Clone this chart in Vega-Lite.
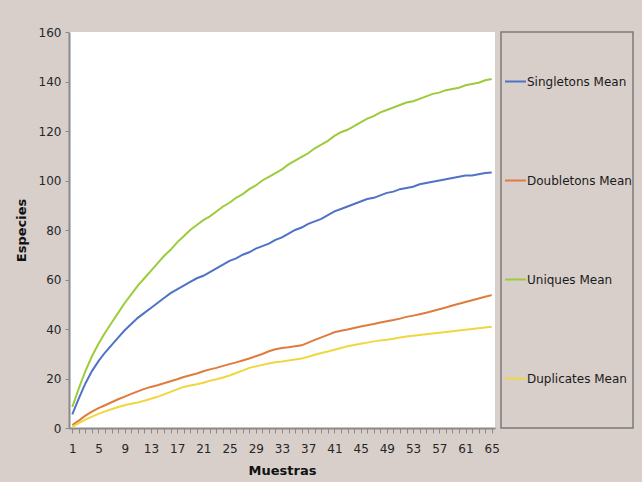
{
  "$schema": "https://vega.github.io/schema/vega-lite/v6.json",
  "background": "#d8cfcb",
  "padding": {"left": 15, "top": 26, "right": 8, "bottom": 5},
  "config": {"font": "DejaVu Sans"},
  "bounds": "flush",
  "spacing": 6,
  "resolve": {"scale": {"x": "independent", "y": "independent", "color": "shared"}},
  "datasets": {
    "curves": [
      {"m":1,"Singletons Mean":5.5,"Doubletons Mean":1.2,"Uniques Mean":8.5,"Duplicates Mean":0.5},
      {"m":2,"Singletons Mean":12,"Doubletons Mean":3,"Uniques Mean":16,"Duplicates Mean":2},
      {"m":3,"Singletons Mean":18,"Doubletons Mean":5,"Uniques Mean":23,"Duplicates Mean":3.4},
      {"m":4,"Singletons Mean":23,"Doubletons Mean":6.6,"Uniques Mean":29,"Duplicates Mean":4.6},
      {"m":5,"Singletons Mean":27,"Doubletons Mean":8,"Uniques Mean":34,"Duplicates Mean":5.7},
      {"m":6,"Singletons Mean":30.5,"Doubletons Mean":9.2,"Uniques Mean":38.5,"Duplicates Mean":6.7},
      {"m":7,"Singletons Mean":33.5,"Doubletons Mean":10.4,"Uniques Mean":42.5,"Duplicates Mean":7.6},
      {"m":8,"Singletons Mean":36.5,"Doubletons Mean":11.6,"Uniques Mean":46.5,"Duplicates Mean":8.5},
      {"m":9,"Singletons Mean":39.5,"Doubletons Mean":12.7,"Uniques Mean":50.5,"Duplicates Mean":9.2},
      {"m":10,"Singletons Mean":42,"Doubletons Mean":13.8,"Uniques Mean":54,"Duplicates Mean":9.8},
      {"m":11,"Singletons Mean":44.5,"Doubletons Mean":14.8,"Uniques Mean":57.5,"Duplicates Mean":10.3},
      {"m":12,"Singletons Mean":46.5,"Doubletons Mean":15.8,"Uniques Mean":60.5,"Duplicates Mean":11},
      {"m":13,"Singletons Mean":48.5,"Doubletons Mean":16.6,"Uniques Mean":63.5,"Duplicates Mean":11.8},
      {"m":14,"Singletons Mean":50.5,"Doubletons Mean":17.3,"Uniques Mean":66.5,"Duplicates Mean":12.6},
      {"m":15,"Singletons Mean":52.5,"Doubletons Mean":18.1,"Uniques Mean":69.5,"Duplicates Mean":13.6},
      {"m":16,"Singletons Mean":54.5,"Doubletons Mean":18.9,"Uniques Mean":72,"Duplicates Mean":14.6},
      {"m":17,"Singletons Mean":56,"Doubletons Mean":19.7,"Uniques Mean":75,"Duplicates Mean":15.6},
      {"m":18,"Singletons Mean":57.5,"Doubletons Mean":20.6,"Uniques Mean":77.5,"Duplicates Mean":16.6},
      {"m":19,"Singletons Mean":59,"Doubletons Mean":21.3,"Uniques Mean":80,"Duplicates Mean":17.2},
      {"m":20,"Singletons Mean":60.5,"Doubletons Mean":22,"Uniques Mean":82,"Duplicates Mean":17.7},
      {"m":21,"Singletons Mean":61.5,"Doubletons Mean":22.9,"Uniques Mean":84,"Duplicates Mean":18.3},
      {"m":22,"Singletons Mean":63,"Doubletons Mean":23.7,"Uniques Mean":85.5,"Duplicates Mean":19.1},
      {"m":23,"Singletons Mean":64.5,"Doubletons Mean":24.3,"Uniques Mean":87.5,"Duplicates Mean":19.7},
      {"m":24,"Singletons Mean":66,"Doubletons Mean":25.1,"Uniques Mean":89.5,"Duplicates Mean":20.4},
      {"m":25,"Singletons Mean":67.5,"Doubletons Mean":25.8,"Uniques Mean":91,"Duplicates Mean":21.2},
      {"m":26,"Singletons Mean":68.5,"Doubletons Mean":26.5,"Uniques Mean":93,"Duplicates Mean":22.2},
      {"m":27,"Singletons Mean":70,"Doubletons Mean":27.3,"Uniques Mean":94.5,"Duplicates Mean":23.2},
      {"m":28,"Singletons Mean":71,"Doubletons Mean":28.1,"Uniques Mean":96.5,"Duplicates Mean":24.3},
      {"m":29,"Singletons Mean":72.5,"Doubletons Mean":29,"Uniques Mean":98,"Duplicates Mean":24.9},
      {"m":30,"Singletons Mean":73.5,"Doubletons Mean":29.9,"Uniques Mean":100,"Duplicates Mean":25.5},
      {"m":31,"Singletons Mean":74.5,"Doubletons Mean":31,"Uniques Mean":101.5,"Duplicates Mean":26.1},
      {"m":32,"Singletons Mean":76,"Doubletons Mean":31.8,"Uniques Mean":103,"Duplicates Mean":26.6},
      {"m":33,"Singletons Mean":77,"Doubletons Mean":32.3,"Uniques Mean":104.5,"Duplicates Mean":26.9},
      {"m":34,"Singletons Mean":78.5,"Doubletons Mean":32.6,"Uniques Mean":106.5,"Duplicates Mean":27.3},
      {"m":35,"Singletons Mean":80,"Doubletons Mean":33,"Uniques Mean":108,"Duplicates Mean":27.7},
      {"m":36,"Singletons Mean":81,"Doubletons Mean":33.4,"Uniques Mean":109.5,"Duplicates Mean":28.1},
      {"m":37,"Singletons Mean":82.5,"Doubletons Mean":34.5,"Uniques Mean":111,"Duplicates Mean":28.8},
      {"m":38,"Singletons Mean":83.5,"Doubletons Mean":35.6,"Uniques Mean":113,"Duplicates Mean":29.6},
      {"m":39,"Singletons Mean":84.5,"Doubletons Mean":36.6,"Uniques Mean":114.5,"Duplicates Mean":30.3},
      {"m":40,"Singletons Mean":86,"Doubletons Mean":37.6,"Uniques Mean":116,"Duplicates Mean":30.9},
      {"m":41,"Singletons Mean":87.5,"Doubletons Mean":38.7,"Uniques Mean":118,"Duplicates Mean":31.6},
      {"m":42,"Singletons Mean":88.5,"Doubletons Mean":39.3,"Uniques Mean":119.5,"Duplicates Mean":32.3},
      {"m":43,"Singletons Mean":89.5,"Doubletons Mean":39.8,"Uniques Mean":120.5,"Duplicates Mean":33},
      {"m":44,"Singletons Mean":90.5,"Doubletons Mean":40.4,"Uniques Mean":122,"Duplicates Mean":33.5},
      {"m":45,"Singletons Mean":91.5,"Doubletons Mean":41,"Uniques Mean":123.5,"Duplicates Mean":34},
      {"m":46,"Singletons Mean":92.5,"Doubletons Mean":41.5,"Uniques Mean":125,"Duplicates Mean":34.5},
      {"m":47,"Singletons Mean":93,"Doubletons Mean":42,"Uniques Mean":126,"Duplicates Mean":35},
      {"m":48,"Singletons Mean":94,"Doubletons Mean":42.6,"Uniques Mean":127.5,"Duplicates Mean":35.4},
      {"m":49,"Singletons Mean":95,"Doubletons Mean":43.1,"Uniques Mean":128.5,"Duplicates Mean":35.7},
      {"m":50,"Singletons Mean":95.5,"Doubletons Mean":43.6,"Uniques Mean":129.5,"Duplicates Mean":36.1},
      {"m":51,"Singletons Mean":96.5,"Doubletons Mean":44.2,"Uniques Mean":130.5,"Duplicates Mean":36.6},
      {"m":52,"Singletons Mean":97,"Doubletons Mean":44.9,"Uniques Mean":131.5,"Duplicates Mean":37},
      {"m":53,"Singletons Mean":97.5,"Doubletons Mean":45.4,"Uniques Mean":132,"Duplicates Mean":37.3},
      {"m":54,"Singletons Mean":98.5,"Doubletons Mean":46,"Uniques Mean":133,"Duplicates Mean":37.6},
      {"m":55,"Singletons Mean":99,"Doubletons Mean":46.6,"Uniques Mean":134,"Duplicates Mean":37.9},
      {"m":56,"Singletons Mean":99.5,"Doubletons Mean":47.3,"Uniques Mean":135,"Duplicates Mean":38.2},
      {"m":57,"Singletons Mean":100,"Doubletons Mean":48,"Uniques Mean":135.5,"Duplicates Mean":38.5},
      {"m":58,"Singletons Mean":100.5,"Doubletons Mean":48.7,"Uniques Mean":136.5,"Duplicates Mean":38.8},
      {"m":59,"Singletons Mean":101,"Doubletons Mean":49.5,"Uniques Mean":137,"Duplicates Mean":39.1},
      {"m":60,"Singletons Mean":101.5,"Doubletons Mean":50.2,"Uniques Mean":137.5,"Duplicates Mean":39.4},
      {"m":61,"Singletons Mean":102,"Doubletons Mean":50.9,"Uniques Mean":138.5,"Duplicates Mean":39.7},
      {"m":62,"Singletons Mean":102,"Doubletons Mean":51.6,"Uniques Mean":139,"Duplicates Mean":40},
      {"m":63,"Singletons Mean":102.5,"Doubletons Mean":52.3,"Uniques Mean":139.5,"Duplicates Mean":40.3},
      {"m":64,"Singletons Mean":103,"Doubletons Mean":53,"Uniques Mean":140.5,"Duplicates Mean":40.6},
      {"m":65,"Singletons Mean":103.2,"Doubletons Mean":53.7,"Uniques Mean":141,"Duplicates Mean":40.9}
    ],
    "leyenda": [
      {"serie": "Singletons Mean"},
      {"serie": "Doubletons Mean"},
      {"serie": "Uniques Mean"},
      {"serie": "Duplicates Mean"}
    ]
  },
  "hconcat": [
    {
      "width": 426,
      "height": 396,
      "view": {"fill": "white", "stroke": null},
      "data": {"name": "curves"},
      "transform": [
        {"fold": ["Singletons Mean", "Doubletons Mean", "Uniques Mean", "Duplicates Mean"], "as": ["serie", "especies"]}
      ],
      "mark": {"type": "line", "strokeWidth": 2},
      "encoding": {
        "x": {
          "field": "m",
          "type": "quantitative",
          "scale": {"domain": [0.5, 65.5], "nice": false, "zero": false},
          "axis": {
            "title": "Muestras",
            "values": [1,2,3,4,5,6,7,8,9,10,11,12,13,14,15,16,17,18,19,20,21,22,23,24,25,26,27,28,29,30,31,32,33,34,35,36,37,38,39,40,41,42,43,44,45,46,47,48,49,50,51,52,53,54,55,56,57,58,59,60,61,62,63,64,65],
            "labelExpr": "(datum.value - 1) % 4 === 0 ? datum.label : ''",
            "labelOverlap": false,
            "labelFlush": false,
            "grid": false,
            "tickSize": 5,
            "tickColor": "#8a8a8a",
            "domainColor": "#8a8a8a",
            "domainWidth": 2,
            "labelFontSize": 12,
            "labelColor": "#262626",
            "labelPadding": 10,
            "titleFontSize": 13,
            "titleFontWeight": "bold",
            "titleColor": "#111111",
            "titlePadding": 10
          }
        },
        "y": {
          "field": "especies",
          "type": "quantitative",
          "scale": {"domain": [0, 160], "nice": false},
          "axis": {
            "title": "Especies",
            "values": [0, 20, 40, 60, 80, 100, 120, 140, 160],
            "grid": false,
            "tickSize": 4,
            "tickColor": "#8a8a8a",
            "domainColor": "#8a8a8a",
            "domainWidth": 2,
            "labelFontSize": 12,
            "labelColor": "#262626",
            "labelPadding": 4,
            "titleFontSize": 13,
            "titleFontWeight": "bold",
            "titleColor": "#111111",
            "titlePadding": 10
          }
        },
        "color": {
          "field": "serie",
          "type": "nominal",
          "scale": {
            "domain": ["Singletons Mean", "Doubletons Mean", "Uniques Mean", "Duplicates Mean"],
            "range": ["#4f72c8", "#e07b3c", "#9dcb3c", "#f0d640"]
          },
          "legend": null
        }
      }
    },
    {
      "width": 132,
      "height": 396,
      "view": {"fill": "#d8cfcb", "stroke": "#7a7a7a", "strokeWidth": 1.5},
      "data": {"name": "leyenda"},
      "encoding": {
        "y": {
          "field": "serie",
          "type": "nominal",
          "scale": {"type": "point", "domain": ["Singletons Mean", "Doubletons Mean", "Uniques Mean", "Duplicates Mean"], "padding": 0.5},
          "axis": null
        }
      },
      "layer": [
        {
          "mark": {"type": "rule", "strokeWidth": 2, "x": 4, "x2": 25},
          "encoding": {
            "color": {
              "field": "serie",
              "type": "nominal",
              "scale": {
                "domain": ["Singletons Mean", "Doubletons Mean", "Uniques Mean", "Duplicates Mean"],
                "range": ["#4f72c8", "#e07b3c", "#9dcb3c", "#f0d640"]
              },
              "legend": null
            }
          }
        },
        {
          "mark": {"type": "text", "x": 26, "align": "left", "baseline": "middle", "fontSize": 12, "color": "#1a1a1a"},
          "encoding": {"text": {"field": "serie"}}
        }
      ]
    }
  ]
}
